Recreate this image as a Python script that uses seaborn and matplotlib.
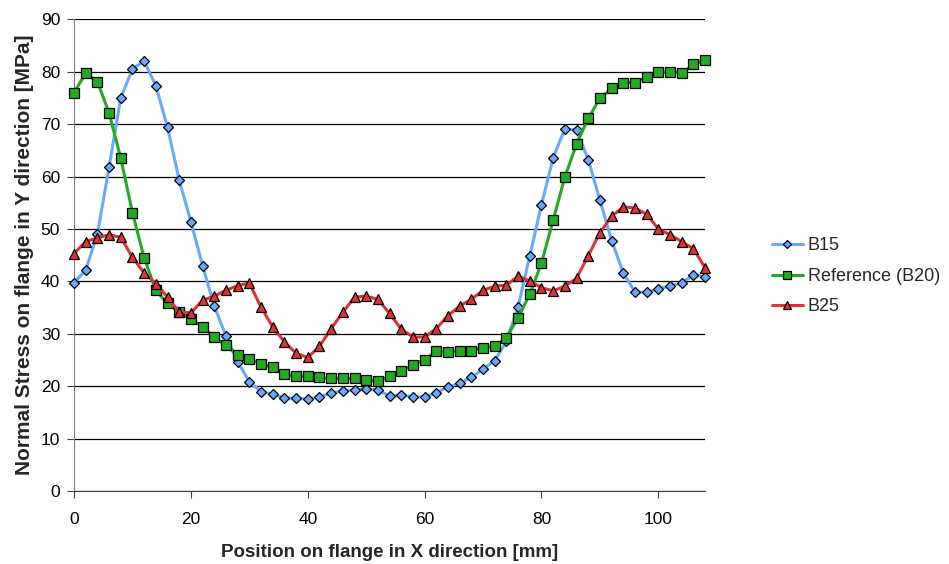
import numpy as np
import pandas as pd
import matplotlib
matplotlib.use("Agg")
import matplotlib.pyplot as plt
import seaborn as sns

x_mm = list(range(0, 110, 2))

b15 = [39.7, 42.2, 49.0, 61.8, 75.0, 80.5, 82.0, 77.3, 69.4, 59.3,
       51.4, 43.0, 35.3, 29.6, 24.7, 20.9, 19.0, 18.5, 17.8, 17.7,
       17.6, 18.0, 18.7, 19.1, 19.3, 19.5, 19.3, 18.2, 18.3, 18.0,
       18.0, 18.8, 19.9, 20.6, 21.7, 23.3, 24.9, 28.6, 35.2, 44.9,
       54.6, 63.6, 69.1, 68.8, 63.2, 55.5, 47.8, 41.6, 38.0, 37.9,
       38.6, 39.1, 39.7, 41.3, 40.8]

b20 = [76.0, 79.7, 78.1, 72.1, 63.5, 53.1, 44.5, 38.3, 35.8, 34.1,
       32.8, 31.4, 29.4, 27.8, 25.9, 25.2, 24.3, 23.6, 22.3, 21.9,
       21.9, 21.7, 21.5, 21.5, 21.5, 21.2, 21.0, 21.9, 22.9, 24.1,
       25.1, 26.7, 26.5, 26.7, 26.8, 27.4, 27.6, 29.3, 33.1, 37.6,
       43.5, 51.7, 59.9, 66.2, 71.1, 74.9, 76.8, 77.9, 77.9, 79.0,
       79.9, 80.0, 79.7, 81.4, 82.2]

b25 = [45.3, 47.6, 48.3, 48.9, 48.4, 44.6, 41.6, 39.6, 37.0, 34.2,
       34.0, 36.4, 37.2, 38.3, 39.2, 39.7, 35.1, 31.3, 28.5, 26.3,
       25.5, 27.6, 31.0, 34.1, 37.0, 37.2, 36.6, 33.9, 30.9, 29.4,
       29.4, 31.0, 33.5, 35.3, 36.6, 38.3, 39.1, 39.3, 41.0, 40.1,
       38.8, 38.2, 39.1, 40.6, 44.9, 49.3, 52.4, 54.2, 54.0, 52.8,
       50.0, 48.9, 47.6, 46.2, 42.6]

series_names = ["B15", "Reference (B20)", "B25"]

df = pd.concat([
    pd.DataFrame({"x": x_mm, "stress": vals, "series": name})
    for name, vals in zip(series_names, [b15, b20, b25])
])

sns.set_style("white")
plt.rcParams['font.family'] = ['Liberation Sans', 'DejaVu Sans']

fig = plt.figure(figsize=(9.49, 5.64), dpi=100)
ax = fig.add_axes([0.078, 0.129, 0.665, 0.837])

palette = {"B15": "#66AAFF", "Reference (B20)": "#22AA22", "B25": "#DD3333"}
markers = {"B15": "D", "Reference (B20)": "s", "B25": "^"}
sizes_m = {"B15": 5, "Reference (B20)": 7, "B25": 7.5}

for name in series_names:
    sns.lineplot(data=df[df["series"] == name], x="x", y="stress",
                 color=palette[name], marker=markers[name],
                 markersize=sizes_m[name], markeredgecolor="black",
                 markeredgewidth=0.9, linewidth=2.2, label=name, ax=ax,
                 clip_on=False, zorder=3)

ax.set_xlim(0, 108)
ax.set_ylim(0, 90)
ax.set_xticks(range(0, 101, 20))
ax.set_yticks(range(0, 91, 10))
ax.yaxis.grid(True, color="black", linewidth=0.9)
ax.set_axisbelow(True)
for s in ["top", "right"]:
    ax.spines[s].set_visible(False)
ax.spines["left"].set_color("#808080")
ax.spines["bottom"].set_color("#404040")
ax.tick_params(axis="both", direction="out", length=5, width=0.8,
               labelsize=12.5, bottom=True, left=True, colors="#404040",
               labelcolor="black")
ax.tick_params(axis="x", pad=10)
ax.tick_params(axis="y", pad=5)

ax.set_xlabel("Position on flange in X direction [mm]", fontsize=13.5,
              fontweight="bold", labelpad=12)
ax.set_ylabel("Normal Stress on flange in Y direction [MPa]", fontsize=15,
              fontweight="bold", labelpad=5)

ax.legend(loc="center left", bbox_to_anchor=(1.08, 0.455), frameon=False,
          fontsize=13, handlelength=1.7, handletextpad=0.3,
          labelspacing=0.75, markerscale=0.85)

fig.savefig("out.png", dpi=100)
